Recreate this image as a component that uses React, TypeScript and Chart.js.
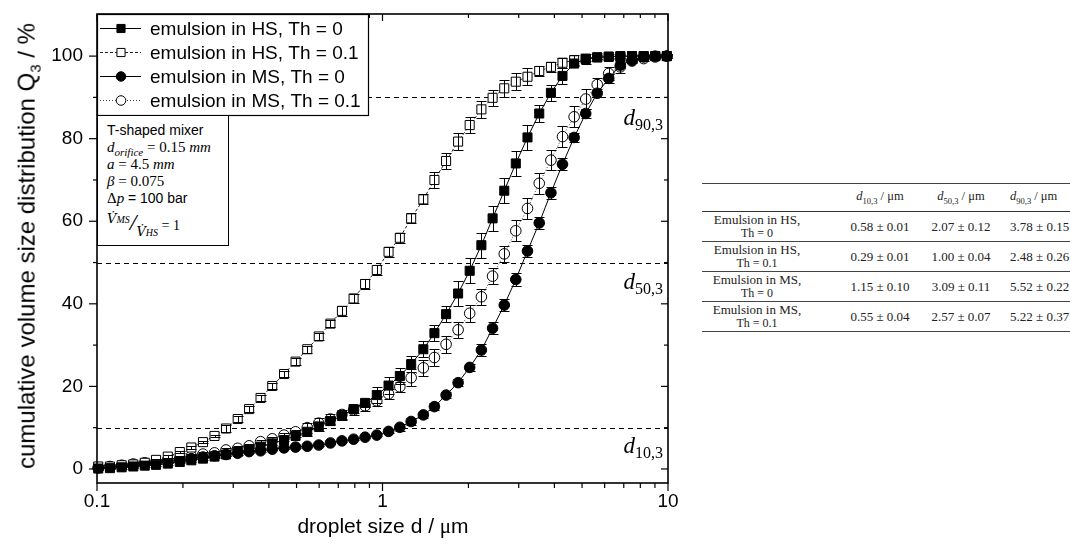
import React, { useEffect, useRef } from "react";
import { Chart, registerables } from "chart.js";

Chart.register(...registerables);

const SANS = "'Liberation Sans', Arial, sans-serif";
const SERIF = "'Liberation Serif', 'Times New Roman', serif";

// droplet size classes (µm)
const dropletSizes = [
  0.101, 0.111, 0.122, 0.134, 0.147, 0.161, 0.177, 0.195, 0.214, 0.235,
  0.258, 0.283, 0.311, 0.341, 0.374, 0.411, 0.452, 0.496, 0.545, 0.598,
  0.657, 0.721, 0.792, 0.869, 0.955, 1.05, 1.15, 1.26, 1.39, 1.52,
  1.67, 1.84, 2.02, 2.22, 2.43, 2.67, 2.93, 3.22, 3.54, 3.89,
  4.27, 4.69, 5.15, 5.65, 6.2, 6.81, 7.48, 8.22, 9.02, 9.91,
];

// cumulative volume size distribution Q3 (%)
const hsTh0 = [
  0.1, 0.2, 0.4, 0.6, 0.8, 1.0, 1.3, 1.7, 2.1, 2.5,
  3.0, 3.5, 4.1, 4.7, 5.4, 6.2, 7.0, 8.0, 9.0, 10.3,
  11.6, 12.9, 14.5, 16.0, 17.9, 20.2, 22.5, 25.4, 29.0, 32.9,
  37.5, 42.5, 48.0, 54.2, 60.7, 67.4, 74.0, 80.3, 86.1, 91.1,
  95.2, 98.2, 99.3, 99.7, 99.9, 100, 100, 100, 100, 100,
];
const hsTh01 = [
  0.6, 0.6, 0.9, 1.1, 1.5, 2.2, 3.0, 4.1, 5.2, 6.5,
  8.0, 9.8, 12.1, 14.5, 17.2, 20.1, 23.0, 26.0, 29.0, 32.1,
  35.2, 38.3, 41.3, 44.8, 48.2, 52.6, 56.0, 60.7, 65.3, 70.0,
  74.6, 79.3, 83.3, 87.1, 89.9, 92.2, 93.8, 95.0, 96.4, 97.4,
  98.4, 99.0, 99.4, 99.7, 99.8, 99.9, 100, 100, 100, 100,
];
const msTh0 = [
  0.3, 0.5, 0.7, 0.9, 1.2, 1.5, 1.8, 2.1, 2.5, 2.9,
  3.2, 3.5, 3.8, 4.2, 4.4, 4.8, 5.1, 5.3, 5.5, 5.8,
  6.3, 6.8, 7.2, 7.7, 8.2, 9.1, 10.1, 11.5, 13.1, 15.1,
  17.9, 20.9, 24.6, 28.8, 34.1, 39.7, 45.9, 52.8, 59.6, 66.9,
  73.8, 80.3, 86.1, 91.0, 94.6, 97.8, 99.0, 99.8, 100, 100,
];
const msTh01 = [
  0.3, 0.6, 0.9, 1.2, 1.5, 1.8, 2.2, 2.6, 3.1, 3.6,
  3.9, 4.6, 5.0, 5.6, 6.6, 7.3, 8.2, 9.0, 10.0, 11.1,
  12.1, 13.2, 14.3, 15.3, 16.5, 18.2, 19.9, 22.1, 24.5, 27.0,
  30.2, 33.7, 37.7, 41.7, 46.7, 52.1, 57.7, 63.1, 69.2, 74.8,
  80.5, 85.3, 89.6, 93.1, 95.8, 97.4, 98.8, 99.4, 99.8, 100,
];

// standard deviations (error bars, %)
const errHsTh0 = [
  0.3, 0.3, 0.3, 0.3, 0.3, 0.3, 0.3, 0.3, 0.3, 0.3,
  0.3, 0.3, 0.3, 0.3, 0.3, 0.3, 0.3, 0.3, 1.0, 1.0,
  1.0, 1.0, 1.0, 1.0, 2.0, 2.0, 2.0, 2.0, 2.0, 2.0,
  2.0, 3.0, 3.0, 3.0, 3.0, 3.0, 3.0, 3.0, 2.0, 2.0,
  2.0, 0.5, 0.5, 0.5, 0.5, 0.5, 0.5, 0.5, 0.5, 0.5,
];
const errHsTh01 = [
  0.3, 0.3, 0.3, 0.3, 0.3, 0.3, 0.3, 0.3, 0.3, 0.3,
  0.3, 0.8, 0.8, 0.8, 0.8, 0.8, 0.8, 0.8, 0.8, 0.8,
  0.8, 1.2, 1.2, 1.2, 1.2, 1.2, 1.2, 1.2, 1.2, 2.0,
  2.0, 2.0, 2.0, 2.0, 2.0, 2.0, 2.0, 2.0, 1.2, 1.2,
  1.2, 1.2, 1.2, 0.3, 0.3, 0.3, 0.3, 0.3, 0.3, 0.3,
];
const errMsTh0 = [
  0.3, 0.3, 0.3, 0.3, 0.3, 0.3, 0.3, 0.3, 0.3, 0.3,
  0.3, 0.3, 0.3, 0.3, 0.3, 0.3, 0.3, 0.3, 0.3, 0.3,
  0.3, 0.3, 0.3, 0.3, 0.3, 0.3, 0.8, 0.8, 0.8, 0.8,
  0.8, 0.8, 0.8, 1.5, 1.5, 1.5, 1.5, 1.5, 1.5, 1.5,
  1.5, 1.0, 1.0, 1.0, 1.0, 0.4, 0.4, 0.4, 0.4, 0.4,
];
const errMsTh01 = [
  0.5, 0.5, 0.5, 0.5, 0.5, 0.5, 0.5, 0.5, 0.5, 0.5,
  0.5, 0.5, 0.5, 0.5, 0.5, 0.5, 0.5, 0.5, 1.2, 1.2,
  1.2, 1.2, 1.2, 1.2, 1.2, 1.2, 1.2, 2.0, 2.0, 2.0,
  2.0, 2.0, 2.0, 2.0, 2.0, 2.0, 2.5, 2.5, 2.5, 2.5,
  2.5, 2.5, 2.5, 1.5, 1.5, 1.5, 0.5, 0.5, 0.5, 0.5,
];

const seriesLabels = [
  "emulsion in HS, Th = 0",
  "emulsion in HS, Th = 0.1",
  "emulsion in MS, Th = 0",
  "emulsion in MS, Th = 0.1",
];

const xTicks = [0.1, 1, 10];
const xTickLabels = ["0.1", "1", "10"];
const xMinorTicks = [0.2, 0.3, 0.4, 0.5, 0.6, 0.7, 0.8, 0.9, 2, 3, 4, 5, 6, 7, 8, 9];
const yTicks = [0, 20, 40, 60, 80, 100];
const yMinorTicks = [10, 30, 50, 70, 90];
const refLevels = [10, 50, 90];

const tableRows = [
  ["Emulsion in HS,", "Th = 0", "0.58 ± 0.01", "2.07 ± 0.12", "3.78 ± 0.15"],
  ["Emulsion in HS,", "Th = 0.1", "0.29 ± 0.01", "1.00 ± 0.04", "2.48 ± 0.26"],
  ["Emulsion in MS,", "Th = 0", "1.15 ± 0.10", "3.09 ± 0.11", "5.52 ± 0.22"],
  ["Emulsion in MS,", "Th = 0.1", "0.55 ± 0.04", "2.57 ± 0.07", "5.22 ± 0.37"],
];
const tableHeadSubs = ["10,3", "50,3", "90,3"];

// marker / line styles per series
const markerStyles = ["rect", "rect", "circle", "circle"];
const markerRadii = [6.4, 6.4, 5.3, 5.3];
const markerFills = ["#000", "#fff", "#000", "#fff"];
const lineColors = ["#000", "#222", "#000", "#444"];
const lineDashes = [[], [3, 2], [], [1, 2]];

function drawMarker(ctx: CanvasRenderingContext2D, style: string, x: number, y: number, r: number, fill: string) {
  ctx.save();
  ctx.setLineDash([]);
  ctx.fillStyle = fill;
  ctx.strokeStyle = "#000";
  ctx.lineWidth = 1;
  ctx.beginPath();
  if (style === "rect") {
    const s = r * Math.SQRT1_2;
    ctx.rect(x - s, y - s, 2 * s, 2 * s);
  } else {
    ctx.arc(x, y, r, 0, Math.PI * 2);
  }
  ctx.fill();
  ctx.stroke();
  ctx.restore();
}

const decorPlugin = {
  id: "decor",
  beforeDatasetsDraw(chart: any) {
    const { ctx, chartArea: a } = chart;
    const y = chart.scales.y;
    ctx.save();
    ctx.strokeStyle = "#000";
    ctx.lineWidth = 1;
    ctx.setLineDash([5, 4]);
    refLevels.forEach((v) => {
      const py = Math.round(y.getPixelForValue(v)) + 0.5;
      ctx.beginPath();
      ctx.moveTo(a.left, py);
      ctx.lineTo(a.right, py);
      ctx.stroke();
    });
    ctx.restore();
  },
  afterDatasetsDraw(chart: any) {
    const { ctx } = chart;
    const xs = chart.scales.x;
    const ys = chart.scales.y;
    ctx.save();
    ctx.strokeStyle = "#000";
    ctx.lineWidth = 1;
    ctx.setLineDash([]);
    chart.data.datasets.forEach((ds: any) => {
      ds.data.forEach((pt: any, i: number) => {
        const e = ds.errors[i];
        const px = Math.round(xs.getPixelForValue(pt.x)) + 0.5;
        const y1 = Math.round(ys.getPixelForValue(pt.y + e)) + 0.5;
        const y2 = Math.round(ys.getPixelForValue(pt.y - e)) + 0.5;
        ctx.beginPath();
        ctx.moveTo(px, y1);
        ctx.lineTo(px, y2);
        ctx.moveTo(px - 5, y1);
        ctx.lineTo(px + 5, y1);
        ctx.moveTo(px - 5, y2);
        ctx.lineTo(px + 5, y2);
        ctx.stroke();
      });
    });
    ctx.restore();
  },
  afterDraw(chart: any) {
    const { ctx, chartArea: a } = chart;
    const xs = chart.scales.x;
    const ys = chart.scales.y;
    ctx.save();
    ctx.strokeStyle = "#000";
    ctx.setLineDash([]);
    ctx.lineWidth = 1.2;
    const tick = (x1: number, y1: number, x2: number, y2: number) => {
      ctx.beginPath();
      ctx.moveTo(x1, y1);
      ctx.lineTo(x2, y2);
      ctx.stroke();
    };
    yTicks.forEach((v) => {
      const py = ys.getPixelForValue(v);
      tick(a.left, py, a.left - 8, py);
      tick(a.right, py, a.right - 7, py);
    });
    yMinorTicks.forEach((v) => {
      const py = ys.getPixelForValue(v);
      tick(a.left, py, a.left - 4, py);
      tick(a.right, py, a.right - 4, py);
    });
    xTicks.forEach((v) => {
      const px = xs.getPixelForValue(v);
      tick(px, a.bottom, px, a.bottom + 8);
      tick(px, a.top, px, a.top + 7);
    });
    xMinorTicks.forEach((v) => {
      const px = xs.getPixelForValue(v);
      tick(px, a.bottom, px, a.bottom + 5);
      tick(px, a.top, px, a.top + 4);
    });
    // legend box
    const lx = a.left, ly = a.top, lw = 271, lh = 101;
    ctx.fillStyle = "#fff";
    ctx.fillRect(lx, ly, lw, lh);
    ctx.lineWidth = 1.2;
    ctx.strokeRect(lx + 0.5, ly + 0.5, lw, lh);
    ctx.font = `19px ${SANS}`;
    ctx.textBaseline = "middle";
    ctx.textAlign = "left";
    chart.data.datasets.forEach((ds: any, k: number) => {
      const cy = ly + 14.5 + k * 24;
      ctx.save();
      ctx.strokeStyle = lineColors[k];
      ctx.lineWidth = 1;
      ctx.setLineDash(lineDashes[k]);
      ctx.beginPath();
      ctx.moveTo(lx + 3, cy);
      ctx.lineTo(lx + 44, cy);
      ctx.stroke();
      ctx.restore();
      drawMarker(ctx, markerStyles[k], lx + 24, cy, markerRadii[k] * 0.9, markerFills[k]);
      ctx.fillStyle = "#000";
      ctx.fillText(ds.label, lx + 53, cy + 1);
    });
    // frame
    ctx.lineWidth = 1.6;
    ctx.strokeRect(a.left, a.top, a.right - a.left, a.bottom - a.top);
    ctx.restore();
  },
};

function VDot({ sub }: { sub: string }) {
  return (
    <span>
      <i style={{ fontFamily: "'DejaVu Serif', serif", fontSize: 13 }}>{"V\u0307"}</i>
      <span style={{ fontSize: 10, fontStyle: "italic" }}>{sub}</span>
    </span>
  );
}

export default function App() {
  const ref = useRef<HTMLCanvasElement>(null);
  useEffect(() => {
    const canvas = ref.current!;
    const seriesValues = [hsTh0, hsTh01, msTh0, msTh01];
    const seriesErrors = [errHsTh0, errHsTh01, errMsTh0, errMsTh01];
    const datasets = seriesLabels.map((label, k) => ({
      label,
      data: dropletSizes.map((x, i) => ({ x, y: seriesValues[k][i] })),
      errors: seriesErrors[k],
      showLine: true,
      borderColor: lineColors[k],
      borderWidth: 1,
      borderDash: lineDashes[k],
      pointStyle: markerStyles[k],
      pointRadius: markerRadii[k],
      pointBackgroundColor: markerFills[k],
      pointBorderColor: "#000",
      pointBorderWidth: 1,
      clip: false,
      tension: 0,
    }));
    const chart = new Chart(canvas, {
      type: "scatter",
      data: { datasets } as any,
      options: {
        animation: false,
        responsive: false,
        devicePixelRatio: 1,
        events: [],
        layout: { padding: { top: 14, right: 32, left: 0, bottom: 0 } },
        plugins: { legend: { display: false }, tooltip: { enabled: false } },
        scales: {
          x: {
            type: "logarithmic",
            min: 0.1,
            max: 10,
            grid: { display: false, drawTicks: true, tickLength: 7 },
            border: { display: false },
            afterBuildTicks: (s: any) => {
              s.ticks = xTicks.map((v) => ({ value: v }));
            },
            afterFit: (s: any) => {
              s.height = 71;
            },
            ticks: {
              color: "#000",
              font: { family: SANS, size: 19 },
              padding: 0,
              maxRotation: 0,
              autoSkip: false,
              callback: (_v: any, i: number) => xTickLabels[i],
            },
          },
          y: {
            type: "linear",
            min: -3.4,
            max: 110.2,
            grid: { display: false, drawTicks: true, tickLength: 12 },
            border: { display: false },
            afterBuildTicks: (s: any) => {
              s.ticks = yTicks.map((v) => ({ value: v }));
            },
            afterFit: (s: any) => {
              s.width = 97;
            },
            ticks: {
              color: "#000",
              font: { family: SANS, size: 19 },
              padding: 2,
              callback: (_v: any, i: number) => String(yTicks[i]),
            },
          },
        },
      } as any,
      plugins: [decorPlugin],
    });
    return () => chart.destroy();
  }, []);

  const dLabel = (sub: string, top: number) => (
    <div
      style={{
        position: "absolute",
        right: 1070 - 663,
        top,
        fontFamily: SERIF,
        fontSize: 23,
        color: "#000",
        whiteSpace: "nowrap",
        lineHeight: "24px",
      }}
    >
      <i>d</i>
      <span style={{ fontSize: 16, position: "relative", top: 5 }}>{sub}</span>
    </div>
  );

  const lineStyle: React.CSSProperties = { height: 17, lineHeight: "17px", whiteSpace: "nowrap" };

  return (
    <div
      style={{
        position: "fixed",
        left: 0,
        top: 0,
        width: 1070,
        height: 554,
        background: "#fff",
        overflow: "hidden",
      }}
    >
      <canvas ref={ref} width={700} height={554} style={{ position: "absolute", left: 0, top: 0 }} />

      {/* annotation box */}
      <div
        style={{
          position: "absolute",
          left: 97,
          top: 115,
          width: 132,
          height: 131,
          border: "1.2px solid #000",
          background: "#fff",
          boxSizing: "border-box",
          padding: "6px 0 0 9px",
          color: "#000",
        }}
      >
        <div style={{ ...lineStyle, fontFamily: SANS, fontSize: 14 }}>T-shaped mixer</div>
        <div style={{ ...lineStyle, fontFamily: SERIF, fontSize: 15 }}>
          <i>d</i>
          <sub style={{ fontSize: 11, fontStyle: "italic" }}>orifice</sub> = 0.15 <i>mm</i>
        </div>
        <div style={{ ...lineStyle, fontFamily: SERIF, fontSize: 15 }}>
          <i>a</i> = 4.5 <i>mm</i>
        </div>
        <div style={{ ...lineStyle, fontFamily: SERIF, fontSize: 15 }}>
          <i>β</i> = 0.075
        </div>
        <div style={{ ...lineStyle, fontFamily: SERIF, fontSize: 15 }}>
          Δ<i>p</i> <span style={{ fontFamily: SANS, fontSize: 14 }}>= 100 bar</span>
        </div>
        <div style={{ height: 30, lineHeight: "30px", whiteSpace: "nowrap", fontFamily: SERIF, fontSize: 14 }}>
          <span style={{ position: "relative", top: -7 }}>
            <VDot sub="MS" />
          </span>
          <span style={{ fontSize: 24, fontStyle: "italic", fontWeight: 300 }}>/</span>
          <span style={{ position: "relative", top: 6 }}>
            <VDot sub="HS" />
          </span>{" "}
          = 1
        </div>
      </div>

      {/* reference level labels */}
      {dLabel("90,3", 106)}
      {dLabel("50,3", 270)}
      {dLabel("10,3", 434)}

      {/* axis titles */}
      <div
        style={{
          position: "absolute",
          left: 28,
          top: 246,
          transform: "translate(-50%, -50%) rotate(-90deg)",
          fontFamily: SANS,
          fontSize: 24,
          whiteSpace: "nowrap",
          color: "#000",
        }}
      >
        cumulative volume size distribution Q<sub style={{ fontSize: 15 }}>3</sub> / %
      </div>
      <div
        style={{
          position: "absolute",
          left: 383,
          top: 526,
          transform: "translate(-50%, -50%)",
          fontFamily: SANS,
          fontSize: 21,
          whiteSpace: "nowrap",
          color: "#000",
        }}
      >
        droplet size d / <span style={{ fontFamily: SERIF }}>μ</span>m
      </div>

      {/* table */}
      <div style={{ position: "absolute", left: 702, top: 183, width: 420, fontFamily: SERIF, color: "#222" }}>
        <table style={{ borderCollapse: "collapse", tableLayout: "fixed", width: 400, fontSize: 13 }}>
          <colgroup>
            <col style={{ width: 137 }} />
            <col style={{ width: 82 }} />
            <col style={{ width: 80 }} />
            <col style={{ width: 101 }} />
          </colgroup>
          <tbody>
            <tr style={{ height: 28, borderTop: "1px solid #444", borderBottom: "1.5px solid #333" }}>
              <td />
              {tableHeadSubs.map((s, k) => (
                <td key={k} style={{ textAlign: k === 2 ? "left" : "center", fontSize: 12.5, whiteSpace: "nowrap", padding: k === 2 ? "0 0 0 9px" : 0 }}>
                  <i>d</i>
                  <sub style={{ fontSize: 8.5 }}>{s}</sub> / μm
                </td>
              ))}
            </tr>
            {tableRows.map((r, i) => (
              <tr key={i} style={{ height: 29.5, borderBottom: "1.5px solid #444" }}>
                <td style={{ textAlign: "center", paddingRight: 28, lineHeight: "13px", fontSize: 13 }}>
                  {r[0]}
                  <br />
                  <span style={{ fontSize: 12 }}>{r[1]}</span>
                </td>
                {r.slice(2).map((v, k) => (
                  <td key={k} style={{ textAlign: k === 2 ? "left" : "center", whiteSpace: "nowrap", padding: k === 2 ? "0 0 0 9px" : 0 }}>
                    {v}
                  </td>
                ))}
              </tr>
            ))}
          </tbody>
        </table>
      </div>
    </div>
  );
}
